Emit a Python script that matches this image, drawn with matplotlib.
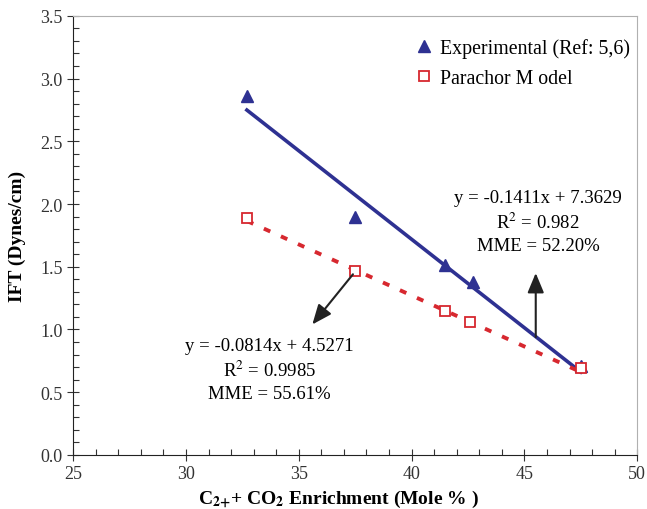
import numpy as np
import matplotlib.pyplot as plt
from matplotlib.ticker import MultipleLocator

plt.rcParams['font.family'] = ['Liberation Serif', 'DejaVu Serif']
plt.rcParams['mathtext.fontset'] = 'stix'

# data
exp_x = [32.7, 37.5, 41.5, 42.7, 47.5]
exp_y = [2.86, 1.90, 1.51, 1.38, 0.71]
par_x = [32.7, 37.5, 41.5, 42.6, 47.5]
par_y = [1.89, 1.47, 1.15, 1.06, 0.69]

# trendlines
fit_exp = (-0.1411, 7.3629)
fit_par = (-0.0814, 4.5271)
fit_range = [32.7, 47.5]

blue = '#2e3192'
red = '#d7282f'

fig = plt.figure(figsize=(6.47, 5.10), dpi=100)
ax = fig.add_axes([0.113, 0.106, 0.872, 0.861])

xs = np.array(fit_range)
ax.plot(xs, fit_exp[0] * xs + fit_exp[1], color=blue, lw=2.6, zorder=2)
ax.plot(xs, fit_par[0] * xs + fit_par[1], color=red, lw=2.8,
        linestyle=(0, (1.8, 3.0)), zorder=2)

ax.plot(exp_x, exp_y, '^', color=blue, ms=8, mec=blue, ls='none',
        label='Experimental (Ref: 5,6)', zorder=3)
ax.plot(par_x, par_y, 's', mfc='white', mec=red, mew=1.3, ms=6.5, ls='none',
        label='Parachor M odel', zorder=3)

ax.set_xlim(25, 50)
ax.set_ylim(0, 3.5)
ax.xaxis.set_major_locator(MultipleLocator(5))
ax.xaxis.set_minor_locator(MultipleLocator(1))
ax.yaxis.set_major_locator(MultipleLocator(0.5))
ax.yaxis.set_minor_locator(MultipleLocator(0.1))
ax.yaxis.set_major_formatter(plt.FuncFormatter(lambda v, p: f'{v:.1f}'))
ax.tick_params(which='major', direction='inout', length=8, width=0.8,
               labelsize=13, colors='#333333')
ax.tick_params(which='minor', direction='in', length=4, width=0.8,
               colors='#333333')
ax.tick_params(top=False, right=False, which='both')

for s in ['top', 'right']:
    ax.spines[s].set_color('#b0b0b0')
for s in ['left', 'bottom']:
    ax.spines[s].set_color('#222222')

ax.set_xlabel(r'C$_{\mathbf{2}{\mathbf{+}}}$+ CO$_\mathbf{2}$ Enrichment (Mole % )',
              fontsize=14, fontweight='bold')
ax.xaxis.set_label_coords(0.47, -0.075)
ax.set_ylabel('IFT (Dynes/cm)', fontsize=14, fontweight='bold', labelpad=10)

ax.legend(loc='upper left', bbox_to_anchor=(0.58, 0.98), frameon=False,
          fontsize=14.3, handlelength=1.0, handletextpad=0.3, labelspacing=0.55,
          borderpad=0.2)

ax.text(45.6, 1.86, 'y = -0.1411x + 7.3629\n' + r'R$^2$ = 0.982' + '\nMME = 52.20%',
        ha='center', va='center', fontsize=13.5, linespacing=1.35)
ax.text(33.7, 0.68, 'y = -0.0814x + 4.5271\n' + r'R$^2$ = 0.9985' + '\nMME = 55.61%',
        ha='center', va='center', fontsize=13.5, linespacing=1.35)

arrow = dict(arrowstyle='-|>,head_length=1.2,head_width=0.5', color='#222222',
             lw=1.5, shrinkA=0, shrinkB=0)
ax.annotate('', xy=(35.6, 1.04), xytext=(37.4, 1.44), arrowprops=arrow)
ax.annotate('', xy=(45.5, 1.45), xytext=(45.5, 0.94), arrowprops=arrow)

fig.savefig('out.png', dpi=100)
